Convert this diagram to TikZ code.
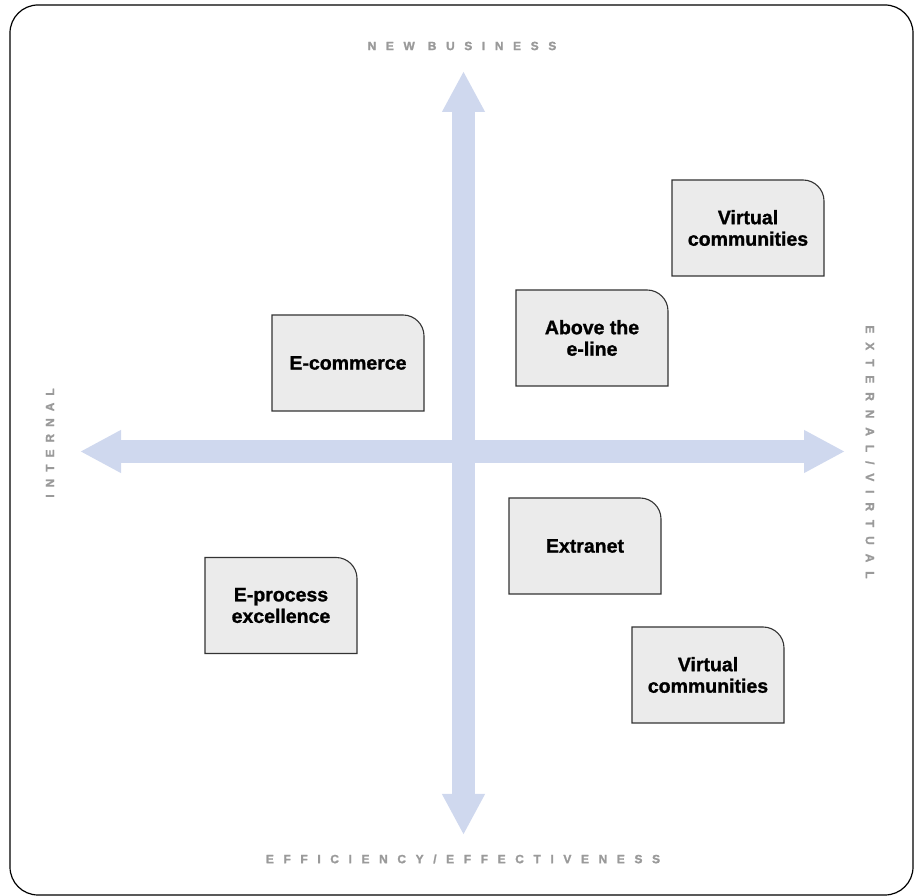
\documentclass[tikz,border=0pt]{standalone}
\usepackage{fontspec}
\setmainfont{Liberation Sans}
\newfontfamily\axisfont[LetterSpace=80, FakeBold=1.5]{Liberation Sans Bold}
\newfontfamily\quadfont[FakeBold=1.2]{Liberation Sans Bold}
\usepackage{tikz}
\usetikzlibrary{positioning, arrows.meta}

\definecolor{axisblue}{HTML}{CFD8EE}
\definecolor{labelgray}{HTML}{9A9A9A}
\definecolor{quadfill}{HTML}{EBEBEB}
\definecolor{quaddraw}{HTML}{333333}

\tikzset{
    axis/.style={line width=23pt, axisblue,
        {Triangle[width=40pt, length=41pt]}-{Triangle[width=40pt, length=41pt]}},
    axislabel/.style={labelgray, font=\axisfont\fontsize{12}{13}\selectfont},
    quadline/.style={fill=quadfill, draw=quaddraw, line width=1.1pt},
    quad/.style={align=center, inner sep=0pt, font=\quadfont\fontsize{19.5}{21.5}\selectfont}
}

\begin{document}
\begin{tikzpicture}[x=1pt, y=1pt]
    \useasboundingbox (0, 0) rectangle (916, 896);
    % Frame
    \draw [line width=1.2pt, rounded corners=28pt] (10, 1) rectangle (913, 891);
    % Axes
    \coordinate (top) at (463.5, 825);
    \coordinate (bottom) at (463.5, 61);
    \coordinate (left) at (80, 444.5);
    \coordinate (right) at (845, 444.5);
    \draw [axis] (left) -- (right);
    \draw [axis] (bottom) -- (top);
    % Axis labels
    \node [axislabel] (newbiz) at (462, 850) {NEW BUSINESS};
    \node [axislabel] (effic) at (463, 37) {EFFICIENCY/EFFECTIVENESS};
    \node [axislabel, rotate=90] (internal) at (50, 453)
        {\addfontfeature{LetterSpace=58}INTERNAL};
    \node [axislabel, rotate=-90] (external) at (870, 444)
        {\addfontfeature{LetterSpace=74}EXTERNAL/VIRTUAL};
    % Boxes
    \foreach \n/\x/\y/\t in {ecom/348/533/E-commerce, aboveline/592/558/{Above the\\e-line},
        vctop/748/668/{Virtual\\communities}, extranet/585/350/Extranet,
        eproc/281/290.5/{E-process\\excellence}, vcbottom/708/221/{Virtual\\communities}} {
        \filldraw [quadline] (\x-76, \y-48) -- (\x-76, \y+48) -- (\x+55, \y+48)
            arc [start angle=90, end angle=0, radius=21] -- (\x+76, \y-48) -- cycle;
        \node [quad] (\n) at (\x, \y) {\t};
    }
\end{tikzpicture}
\end{document}
